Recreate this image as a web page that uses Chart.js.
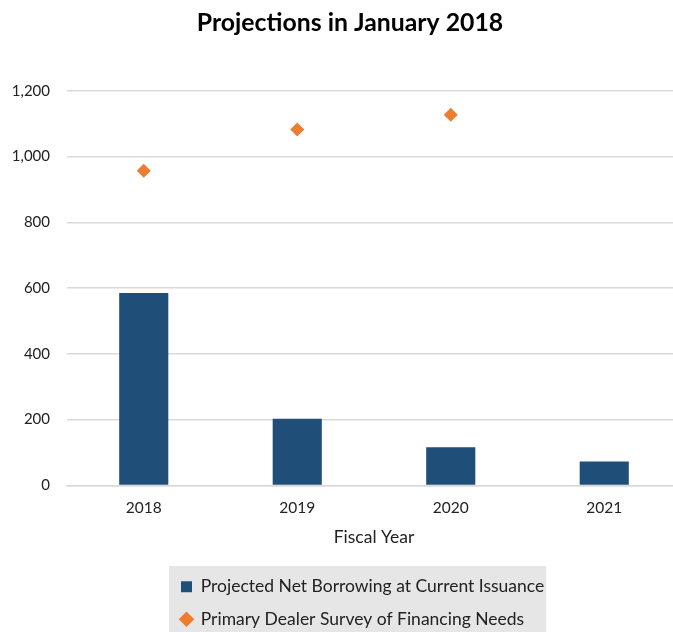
<!DOCTYPE html>
<html>
<head>
<meta charset="utf-8">
<title>Projections in January 2018</title>
<script src="https://cdn.jsdelivr.net/npm/chart.js@4"></script>
<style>
  html, body { margin: 0; padding: 0; background: #fff; overflow: hidden; }
  #wrap { width: 700px; height: 632px; }
</style>
</head>
<body>
<div id="wrap"><canvas id="myChart"></canvas></div>
<script>
    // valeurs (milliards $)
    var years = ['2018', '2019', '2020', '2021'];
    var netBorrowing = [585, 203, 116, 73];
    var dealerSurvey = [957, 1082, 1127, null];
    var yTicks = [0, 200, 400, 600, 800, 1000, 1200];

    var txtColor = '#222222';
    var gridColor = '#d9d9d9';

    // titre recentré, légende calée à gauche avec un fond gris
    var legendBox = {
        id: 'legendBox',
        afterLayout: function (chart) {
            chart.titleBlock.left = 19;
            var lg = chart.legend;
            lg.left = 166;
            lg.right = lg.left + lg.width;
        },
        beforeDraw: function (chart) {
            var lg = chart.legend;
            var boxes = lg && lg.legendHitBoxes;
            if (!boxes || !boxes.length) return;
            var w = 0, top = Infinity;
            for (var b of boxes) {
                w = Math.max(w, b.width);
                top = Math.min(top, b.top);
            }
            var x0 = lg.left + lg.options.labels.padding;
            var c = chart.ctx;
            c.save();
            c.fillStyle = '#e6e6e6';
            c.fillRect(x0 - 12, top - 12, w + 14, chart.height - top + 12);
            c.restore();
        }
    };

    var ctx = document.getElementById('myChart').getContext('2d');
    var myChart = new Chart(ctx, {
        type: 'bar',
        data: {
            labels: years,
            datasets: [{
                type: 'bar',
                label: 'Projected Net Borrowing at Current Issuance',
                data: netBorrowing,
                backgroundColor: '#1f4e79',
                borderWidth: 0,
                barPercentage: 0.32,
                categoryPercentage: 1,
                pointStyle: 'rect',
                order: 2
            }, {
                type: 'line',
                label: 'Primary Dealer Survey of Financing Needs',
                data: dealerSurvey,
                showLine: false,
                pointStyle: 'rectRot',
                pointRadius: 7,
                pointHoverRadius: 7,
                backgroundColor: '#ed7d31',
                borderColor: '#ed7d31',
                borderWidth: 0,
                order: 1
            }]
        },
        plugins: [legendBox],
        options: {
            responsive: true,
            maintainAspectRatio: false,
            animation: false,
            layout: { padding: { left: 5, right: 19, top: 6, bottom: -6 } },
            plugins: {
                title: {
                    display: true,
                    text: 'Projections in January 2018',
                    color: '#000',
                    font: { family: 'Lato', size: 24.8, weight: 'bold' },
                    padding: { top: 2, bottom: 53 }
                },
                legend: {
                    position: 'bottom',
                    align: 'start',
                    maxWidth: 440,
                    labels: {
                        usePointStyle: true,
                        boxWidth: 11,
                        boxHeight: 11,
                        color: txtColor,
                        font: { family: 'Lato', size: 17.5 },
                        padding: 15,
                        sort: function (a, b) { return a.datasetIndex - b.datasetIndex; }
                    }
                },
                tooltip: { enabled: false }
            },
            scales: {
                x: {
                    grid: { display: false },
                    border: { color: gridColor, width: 1.5 },
                    ticks: { color: txtColor, font: { family: 'Lato', size: 15.5 }, padding: 5 },
                    title: {
                        display: true,
                        text: 'Fiscal Year',
                        color: txtColor,
                        font: { family: 'Lato', size: 17.5 },
                        padding: { top: 5, bottom: 15 }
                    }
                },
                y: {
                    min: 0,
                    max: 1200,
                    afterBuildTicks: function (axis) {
                        axis.ticks = yTicks.map(function (v) { return { value: v }; });
                    },
                    afterFit: function (axis) { axis.width = 62; },
                    grid: { color: gridColor, lineWidth: 1.5, drawTicks: false },
                    border: { display: false },
                    ticks: {
                        color: txtColor,
                        font: { family: 'Lato', size: 15 },
                        padding: 17,
                        callback: function (v) { return v.toLocaleString('en-US'); }
                    }
                }
            }
        }
    });
</script>
</body>
</html>
